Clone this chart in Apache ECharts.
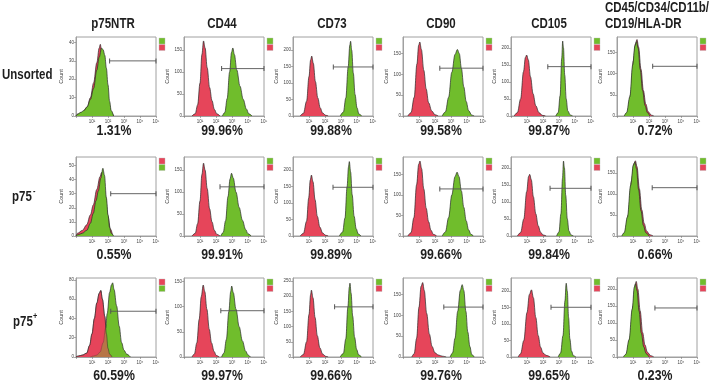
<!DOCTYPE html>
<html><head><meta charset="utf-8">
<script src="https://cdn.jsdelivr.net/npm/echarts@6/dist/echarts.min.js"></script>
<style>html,body{margin:0;padding:0;background:#fff}#c{width:709px;height:382px}</style>
</head><body><div id="c"></div>
<script>
// ---------- text ----------
const columnTitles = ['p75NTR', 'CD44', 'CD73', 'CD90', 'CD105', 'CD45/CD34/CD11b/', 'CD19/HLA-DR'];
const rowTitles = ['Unsorted', 'p75', 'p75'];
const rowSup = ['', '-', '+'];
const pctUnsorted = ['1.31%', '99.96%', '99.88%', '99.58%', '99.87%', '0.72%'];
const pctNeg = ['0.55%', '99.91%', '99.89%', '99.66%', '99.84%', '0.66%'];
const pctPos = ['60.59%', '99.97%', '99.66%', '99.76%', '99.65%', '0.23%'];
const xExpLabels = ['', '10¹', '10²', '10³', '10⁴', '10⁵'];

// ---------- axes (per panel, row-major) ----------
const yMaxValues = [43, 180, 240, 190, 232, 186,
                    56, 180, 240, 193, 232, 188,
                    82, 157, 260, 190, 240, 232];
const yStepValues = [10, 50, 50, 50, 50, 50,
                     10, 50, 50, 50, 50, 50,
                     20, 50, 50, 50, 50, 50];
// gate marker: start (log decade) and level (count)
const gateStart = [2.1, 2.35, 2.52, 2.3, 2.3, 2.23,
                   2.17, 2.25, 2.5, 2.3, 2.44, 2.2,
                   2.17, 2.3, 2.6, 2.55, 2.5, 2.37];
const gateLevel = [30, 108, 149, 115, 145, 117,
                   30, 112, 148, 115, 140, 115,
                   47.5, 92, 165, 120, 151, 144];

// ---------- histograms: [log10 fluorescence, count] ----------
// Row 1: Unsorted
const r1c1Red = [[0,0],[0.1,1],[0.4,2],[0.7,5],[0.9,10],[1.1,18],[1.3,29],[1.45,37],[1.52,39],[1.6,35],[1.75,27],[1.9,16],[2.05,7],[2.2,2],[2.35,0]];
const r1c1Green = [[0,0],[0.1,1],[0.3,2],[0.5,3],[0.7,5],[0.9,9],[1.1,15],[1.3,25],[1.45,32],[1.6,37],[1.7,36],[1.8,33],[1.9,26],[2.0,17],[2.1,8],[2.2,3],[2.35,0]];
const r1c2Red = [[0.5,0],[0.7,5],[0.85,25],[1.0,75],[1.12,140],[1.22,171],[1.32,155],[1.45,110],[1.6,65],[1.75,35],[1.9,15],[2.05,5],[2.25,0]];
const r1c2Green = [[2.4,0],[2.55,8],[2.7,40],[2.85,100],[2.97,145],[3.05,155],[3.15,140],[3.3,105],[3.5,68],[3.7,38],[3.9,16],[4.05,5],[4.25,0]];
const r1c3Red = [[0.45,0],[0.65,8],[0.85,45],[1.0,120],[1.1,170],[1.17,182],[1.27,160],[1.4,105],[1.55,55],[1.7,25],[1.85,9],[2.05,2],[2.2,0]];
const r1c3Green = [[2.95,0],[3.15,12],[3.3,55],[3.45,150],[3.55,215],[3.6,227],[3.67,200],[3.77,130],[3.88,65],[4.0,25],[4.12,6],[4.3,0]];
const r1c4Red = [[0.3,0],[0.5,8],[0.7,45],[0.87,125],[0.98,170],[1.05,178],[1.15,160],[1.3,110],[1.45,65],[1.6,32],[1.8,12],[2.0,3],[2.2,0]];
const r1c4Green = [[2.45,0],[2.65,10],[2.85,45],[3.05,105],[3.25,148],[3.4,160],[3.52,150],[3.65,115],[3.8,70],[3.95,35],[4.1,13],[4.3,2],[4.45,0]];
const r1c5Red = [[0.2,0],[0.4,10],[0.6,50],[0.78,130],[0.9,172],[0.98,179],[1.08,165],[1.22,115],[1.38,65],[1.55,30],[1.75,10],[1.95,2],[2.15,0]];
const r1c5Green = [[2.8,0],[2.95,10],[3.07,60],[3.17,170],[3.23,220],[3.28,200],[3.36,120],[3.45,50],[3.55,15],[3.7,3],[3.85,0]];
const r1c6Red = [[0.5,0],[0.65,8],[0.85,50],[1.02,130],[1.15,170],[1.25,180],[1.35,162],[1.5,110],[1.65,60],[1.8,28],[1.95,10],[2.15,2],[2.3,0]];
const r1c6Green = [[0.45,0],[0.6,8],[0.8,45],[0.98,120],[1.12,165],[1.22,175],[1.32,160],[1.45,110],[1.6,60],[1.75,25],[1.9,8],[2.05,0]];
// Row 2: p75-
const r2c1Red = [[0,0],[0.1,2],[0.4,4],[0.67,8],[0.9,15],[1.08,22],[1.3,33],[1.5,42],[1.6,45],[1.7,41],[1.85,28],[2.0,14],[2.15,5],[2.3,0]];
const r2c1Green = [[0,0],[0.15,1],[0.4,2],[0.67,4],[0.9,9],[1.08,16],[1.25,25],[1.4,32],[1.55,41],[1.68,48],[1.78,43],[1.9,27],[2.0,15],[2.1,6],[2.2,2],[2.35,0]];
const r2c2Red = [[0.5,0],[0.7,6],[0.85,28],[1.0,80],[1.12,140],[1.22,166],[1.32,150],[1.45,108],[1.6,62],[1.75,32],[1.9,13],[2.05,4],[2.25,0]];
const r2c2Green = [[2.3,0],[2.45,8],[2.6,35],[2.75,90],[2.88,130],[2.97,143],[3.08,132],[3.25,100],[3.45,65],[3.65,36],[3.85,15],[4.0,5],[4.2,0]];
const r2c3Red = [[0.45,0],[0.65,8],[0.85,45],[0.98,115],[1.08,170],[1.15,185],[1.25,165],[1.38,110],[1.52,60],[1.68,27],[1.85,9],[2.05,2],[2.2,0]];
const r2c3Green = [[2.9,0],[3.1,12],[3.25,55],[3.38,150],[3.47,210],[3.52,226],[3.6,195],[3.7,125],[3.82,60],[3.95,22],[4.08,6],[4.25,0]];
const r2c4Red = [[0.3,0],[0.5,8],[0.68,45],[0.85,125],[0.98,175],[1.06,183],[1.16,165],[1.3,115],[1.45,68],[1.6,35],[1.75,14],[1.9,4],[2.1,0]];
const r2c4Green = [[2.45,0],[2.65,10],[2.85,45],[3.05,100],[3.25,145],[3.38,156],[3.5,145],[3.65,110],[3.8,70],[3.95,37],[4.1,15],[4.25,4],[4.4,0]];
const r2c5Red = [[0.4,0],[0.6,10],[0.8,50],[0.98,130],[1.1,175],[1.17,181],[1.27,165],[1.4,115],[1.55,65],[1.7,30],[1.85,11],[2.0,3],[2.2,0]];
const r2c5Green = [[2.85,0],[3.0,12],[3.12,65],[3.22,170],[3.28,220],[3.34,200],[3.42,120],[3.52,50],[3.62,15],[3.75,3],[3.9,0]];
const r2c6Red = [[0.35,0],[0.5,8],[0.7,50],[0.9,130],[1.05,172],[1.15,179],[1.25,165],[1.4,112],[1.55,62],[1.7,30],[1.85,12],[2.05,3],[2.25,0]];
const r2c6Green = [[0.3,0],[0.45,8],[0.65,45],[0.85,120],[1.02,168],[1.12,176],[1.22,160],[1.35,110],[1.5,60],[1.65,25],[1.8,8],[2.0,0]];
// Row 3: p75+
const r3c1Red = [[0,0],[0.15,1],[0.4,2],[0.67,4],[0.85,12],[1.0,24],[1.15,40],[1.3,56],[1.45,66],[1.55,69],[1.65,60],[1.8,42],[1.9,24],[2.0,9],[2.1,3],[2.25,0]];
const r3c1Green = [[0.9,0],[1.1,1],[1.3,2],[1.5,5],[1.7,15],[1.85,30],[1.95,45],[2.1,67],[2.22,75],[2.29,77],[2.38,70],[2.54,53],[2.7,32],[2.85,15],[3.0,7],[3.17,3],[3.4,0]];
const r3c2Red = [[0.5,0],[0.65,6],[0.8,28],[0.95,75],[1.08,120],[1.2,143],[1.3,130],[1.43,95],[1.58,55],[1.72,28],[1.88,11],[2.02,3],[2.2,0]];
const r3c2Green = [[2.35,0],[2.5,8],[2.65,35],[2.8,90],[2.92,130],[2.98,141],[3.08,128],[3.25,95],[3.45,60],[3.65,32],[3.85,12],[4.0,4],[4.15,0]];
const r3c3Red = [[0.45,0],[0.65,8],[0.85,50],[1.0,140],[1.1,205],[1.15,220],[1.25,195],[1.38,130],[1.52,70],[1.68,30],[1.85,10],[2.05,2],[2.2,0]];
const r3c3Green = [[2.95,0],[3.15,12],[3.3,60],[3.43,165],[3.52,230],[3.56,243],[3.63,210],[3.73,135],[3.85,65],[3.98,25],[4.1,7],[4.28,0]];
const r3c4Red = [[0.55,0],[0.7,8],[0.85,45],[1.0,120],[1.13,170],[1.23,179],[1.33,160],[1.48,105],[1.65,55],[1.82,25],[2.0,10],[2.2,5],[2.45,2],[2.7,0]];
const r3c4Green = [[2.95,0],[3.1,10],[3.25,45],[3.42,110],[3.58,160],[3.7,174],[3.8,160],[3.93,110],[4.05,60],[4.18,25],[4.3,6],[4.45,0]];
const r3c5Red = [[0.45,0],[0.6,10],[0.8,50],[1.0,135],[1.15,190],[1.28,204],[1.4,180],[1.55,120],[1.7,65],[1.85,30],[2.0,12],[2.2,5],[2.45,0]];
const r3c5Green = [[2.95,0],[3.1,12],[3.25,65],[3.37,170],[3.45,224],[3.52,200],[3.6,120],[3.68,55],[3.78,18],[3.9,4],[4.05,0]];
const r3c6Red = [[0.45,0],[0.6,8],[0.8,55],[1.0,150],[1.13,210],[1.2,222],[1.3,200],[1.45,135],[1.6,72],[1.75,35],[1.9,14],[2.1,4],[2.3,0]];
const r3c6Green = [[0.4,0],[0.55,8],[0.75,50],[0.95,140],[1.08,205],[1.15,215],[1.25,195],[1.38,135],[1.52,70],[1.67,30],[1.82,10],[2.0,0]];

const redCurves = [r1c1Red, r1c2Red, r1c3Red, r1c4Red, r1c5Red, r1c6Red,
                   r2c1Red, r2c2Red, r2c3Red, r2c4Red, r2c5Red, r2c6Red,
                   r3c1Red, r3c2Red, r3c3Red, r3c4Red, r3c5Red, r3c6Red];
const greenCurves = [r1c1Green, r1c2Green, r1c3Green, r1c4Green, r1c5Green, r1c6Green,
                     r2c1Green, r2c2Green, r2c3Green, r2c4Green, r2c5Green, r2c6Green,
                     r3c1Green, r3c2Green, r3c3Green, r3c4Green, r3c5Green, r3c6Green];

// ---------- layout & style ----------
const colLeft = [76, 184, 293, 403, 511, 617];
const rowTop = [37, 157, 278];
const W = 80, H = 79;
const RED = '#e6455a', GREEN = '#70bd2c';
const FONT = '"Liberation Sans",Arial,sans-serif';
const NARROW = 0.82;
const pctRows = [pctUnsorted, pctNeg, pctPos];
const pctY = [131, 255, 376];

function txt(text, x, y, size, align) {
  return {type: 'text', x: x, y: y, scaleX: NARROW, scaleY: 1,
    style: {text: text, x: 0, y: 0, align: align, verticalAlign: 'middle', font: 'bold ' + size + 'px ' + FONT, fill: '#1e1e1e'}};
}

const grids = [], xAxes = [], yAxes = [], series = [], graphics = [];
for (let r = 0; r < 3; r++) {
  for (let c = 0; c < 6; c++) {
    const i = r * 6 + c;
    const L = colLeft[c], T = rowTop[r];
    const redLegendTop = (c === 0 && r > 0);
    const overlapMix = (c === 0 && r === 2);
    grids.push({left: L, top: T, width: W, height: H, show: true, borderColor: '#a0a0a0', borderWidth: 1});
    xAxes.push({
      gridIndex: i, type: 'value', min: 0, max: 5, interval: 1,
      axisLine: {show: true, onZero: false, lineStyle: {color: '#a0a0a0', width: 1}},
      axisTick: {show: true, length: 2, lineStyle: {color: '#777', width: 0.6}},
      splitLine: {show: false},
      axisLabel: {fontSize: 4.5, color: '#444', margin: 3, fontFamily: 'Liberation Sans',
                  formatter: v => xExpLabels[Math.round(v)] || ''}
    });
    yAxes.push({
      gridIndex: i, type: 'value', min: 0, max: yMaxValues[i], interval: yStepValues[i],
      axisLine: {show: true, lineStyle: {color: '#a0a0a0', width: 1}},
      axisTick: {show: true, length: 2, lineStyle: {color: '#777', width: 0.6}},
      splitLine: {show: false},
      axisLabel: {fontSize: 4.5, color: '#444', margin: 2, showMaxLabel: false, fontFamily: 'Liberation Sans'},
      name: 'Count', nameLocation: 'middle', nameGap: 12, nameRotate: 90,
      nameTextStyle: {fontSize: 5.5, color: '#444', fontFamily: 'Liberation Sans'}
    });
    const mk = (data, color, z, opacity, lineW) => ({
      type: 'line', xAxisIndex: i, yAxisIndex: i, data: data, smooth: 0.35, smoothMonotone: 'x',
      symbol: 'none', z: z, silent: true,
      lineStyle: {color: '#2a2a2a', width: lineW, type: 'solid'},
      areaStyle: {color: color, opacity: opacity}
    });
    series.push(mk(redCurves[i], RED, 2, 1, 0.7));
    series.push(mk(greenCurves[i], GREEN, 3, 1, 0.7));
    if (overlapMix) series.push(mk(redCurves[i], RED, 4, 0.6, 0.5));
    series.push({
      type: 'line', xAxisIndex: i, yAxisIndex: i, z: 5, silent: true,
      data: [[gateStart[i], gateLevel[i]], [5, gateLevel[i]]],
      symbol: 'rect', symbolSize: [1, 5], showSymbol: true,
      itemStyle: {color: '#555'}, lineStyle: {color: '#555', width: 0.9}
    });
    // legend swatches
    const topCol = redLegendTop ? RED : GREEN, botCol = redLegendTop ? GREEN : RED;
    graphics.push({type: 'rect', shape: {x: L + W + 3, y: T + 1, width: 6, height: 6}, style: {fill: topCol, stroke: '#bbb', lineWidth: 0.4}});
    graphics.push({type: 'rect', shape: {x: L + W + 3, y: T + 7.5, width: 6, height: 6}, style: {fill: botCol, stroke: '#bbb', lineWidth: 0.4}});
    // percentage
    graphics.push(txt(pctRows[r][c], L + 38, pctY[r], 15, 'center'));
  }
}
// column headers
const headX = [113, 222, 332, 441, 549];
for (let c = 0; c < 5; c++) graphics.push(txt(columnTitles[c], headX[c], 24, 14, 'center'));
graphics.push(txt(columnTitles[5], 605, 8, 14, 'left'));
graphics.push(txt(columnTitles[6], 605, 24, 14, 'left'));
// row labels
const rowY = [75, 197, 322];
const rowX = [2, 12, 13];
for (let r = 0; r < 3; r++) {
  graphics.push(txt(rowTitles[r], rowX[r], rowY[r], 14, 'left'));
  if (rowSup[r]) graphics.push(txt(rowSup[r], 33, rowY[r] - 5, 9, 'left'));
}

const chart = echarts.init(document.getElementById('c'), null, {renderer: 'canvas'});
chart.setOption({
  animation: false,
  backgroundColor: '#fff',
  grid: grids, xAxis: xAxes, yAxis: yAxes, series: series,
  graphic: graphics
});
</script></body></html>
